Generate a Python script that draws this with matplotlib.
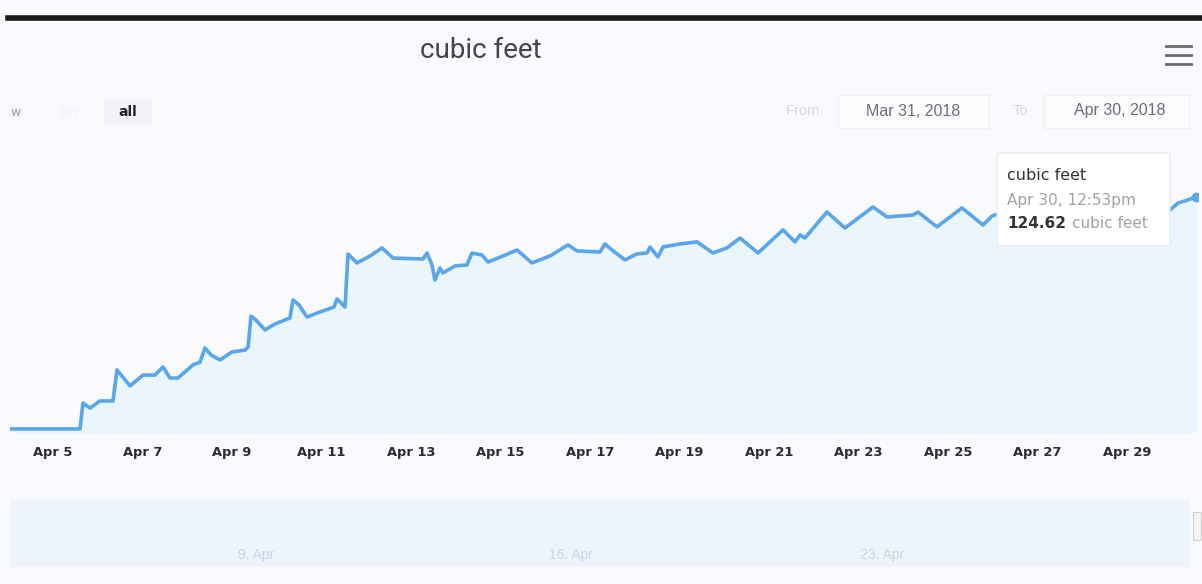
import matplotlib
matplotlib.use("Agg")
import matplotlib.pyplot as plt
import matplotlib.dates as mdates
import matplotlib.transforms as mtransforms
from matplotlib.patches import FancyBboxPatch, Rectangle
import pandas as pd

# ---- data ----
times = [
    "2018-04-04 01:00", "2018-04-05 14:28", "2018-04-05 16:05", "2018-04-05 19:50",
    "2018-04-06 01:12", "2018-04-06 08:11", "2018-04-06 10:19", "2018-04-06 17:18",
    "2018-04-07 00:16", "2018-04-07 06:42", "2018-04-07 11:00", "2018-04-07 14:45",
    "2018-04-07 19:02", "2018-04-08 03:05", "2018-04-08 06:50", "2018-04-08 09:31",
    "2018-04-08 12:45", "2018-04-08 17:34", "2018-04-09 00:00", "2018-04-09 06:59",
    "2018-04-09 08:36", "2018-04-09 10:12", "2018-04-09 12:52", "2018-04-09 17:41",
    "2018-04-09 23:04", "2018-04-10 07:06", "2018-04-10 08:43", "2018-04-10 11:56",
    "2018-04-10 16:13", "2018-04-10 23:11", "2018-04-11 06:42", "2018-04-11 08:18",
    "2018-04-11 10:28", "2018-04-11 12:36", "2018-04-11 14:13", "2018-04-11 19:02",
    "2018-04-12 02:01", "2018-04-12 08:27", "2018-04-12 14:21", "2018-04-13 06:26",
    "2018-04-13 08:35", "2018-04-13 11:15", "2018-04-13 12:52", "2018-04-13 15:33",
    "2018-04-13 17:09", "2018-04-13 23:36", "2018-04-14 06:02", "2018-04-14 08:42",
    "2018-04-14 14:05", "2018-04-14 17:18", "2018-04-15 01:21", "2018-04-15 08:51",
    "2018-04-15 16:54", "2018-04-16 02:33", "2018-04-16 12:11", "2018-04-16 17:01",
    "2018-04-17 05:21", "2018-04-17 08:02", "2018-04-17 11:48", "2018-04-17 18:46",
    "2018-04-18 01:12", "2018-04-18 06:34", "2018-04-18 08:11", "2018-04-18 12:28",
    "2018-04-18 15:09", "2018-04-19 00:16", "2018-04-19 09:23", "2018-04-19 17:58",
    "2018-04-20 01:28", "2018-04-20 08:27", "2018-04-20 18:06", "2018-04-21 07:31",
    "2018-04-21 13:57", "2018-04-21 16:38", "2018-04-21 19:18", "2018-04-22 07:06",
    "2018-04-22 16:45", "2018-04-23 07:46", "2018-04-23 15:17", "2018-04-24 05:14",
    "2018-04-24 07:55", "2018-04-24 18:06", "2018-04-25 07:31", "2018-04-25 18:46",
    "2018-04-25 23:36", "2018-04-26 11:56", "2018-04-27 04:02", "2018-04-27 20:07",
    "2018-04-28 12:12", "2018-04-29 06:59", "2018-04-29 23:04", "2018-04-30 03:22",
    "2018-04-30 07:06", "2018-04-30 12:53",
]
cubic_feet = [
    1.1, 1.1, 14.9, 12.2,
    16.0, 16.0, 32.5, 24.0,
    29.8, 29.8, 34.1, 28.2,
    28.2, 35.2, 36.7, 44.2,
    40.5, 37.8, 42.1, 43.1,
    44.7, 61.2, 59.1, 53.8,
    57.0, 60.2, 69.8, 67.1,
    60.7, 63.4, 66.0, 70.3,
    68.2, 66.0, 94.3, 89.5,
    93.2, 97.5, 92.1, 91.6,
    94.8, 88.4, 80.4, 86.8,
    84.2, 87.9, 88.4, 94.8,
    93.7, 90.0, 93.2, 96.4,
    89.5, 93.2, 99.1, 95.9,
    95.3, 99.6, 96.4, 91.1,
    94.3, 94.8, 98.0, 92.7,
    98.0, 99.6, 100.7, 94.8,
    97.5, 102.8, 94.8, 107.1,
    100.7, 104.4, 102.8, 116.6,
    108.1, 119.3, 114.0, 115.0,
    116.6, 108.7, 118.8, 109.7,
    114.5, 118.8, 113.4, 119.8,
    115.6, 121.0, 117.7, 121.4,
    122.5, 124.62,
]
tick_dates = ["2018-04-05", "2018-04-07", "2018-04-09", "2018-04-11", "2018-04-13",
              "2018-04-15", "2018-04-17", "2018-04-19", "2018-04-21", "2018-04-23",
              "2018-04-25", "2018-04-27", "2018-04-29"]
nav_labels = ["9. Apr", "16. Apr", "23. Apr"]
nav_dates = ["2018-04-09", "2018-04-16", "2018-04-23"]

t = pd.to_datetime(times)
td = pd.to_datetime(tick_dates)

W, H = 1202, 584
BG = "#f8fafd"
LINE = "#5aa6ea"
FILL = "#eaf5fc"

fig = plt.figure(figsize=(W / 100, H / 100), dpi=100, facecolor=BG)

def fx(px):
    return px / W

def fy(py):
    return 1 - py / H

# top dark scan border
fig.add_artist(plt.Line2D([fx(8), fx(1202)], [fy(18), fy(18)], color="#1c1a1a", lw=4.0))

# main axes
ax = fig.add_axes([fx(10), fy(432), fx(1198) - fx(10), fy(145) - fy(432)])
ax.set_facecolor(BG)
ax.fill_between(t, cubic_feet, -10, color=FILL, zorder=1)
ax.plot(t, cubic_feet, color=LINE, lw=2.6, zorder=3, solid_joinstyle="round")
ax.plot(t[-1:], cubic_feet[-1:], "o", color=LINE, ms=6, zorder=4)

x0 = pd.Timestamp("2018-04-05") - pd.Timedelta(days=0.961)
x1 = pd.Timestamp("2018-04-05") + pd.Timedelta(days=25.587)
ax.set_xlim(x0, x1)
ax.set_ylim(-0.53, 152.3)
for s in ax.spines.values():
    s.set_visible(False)
ax.set_yticks([])
ax.set_xticks(td)
ax.xaxis.set_major_formatter(mdates.DateFormatter("%b %-d"))
ax.tick_params(axis="x", length=0, pad=10, labelsize=9.4, labelcolor="#2b2b33")
for lb in ax.get_xticklabels():
    lb.set_fontweight("bold")
    lb.set_family("DejaVu Sans")

# tooltip
tip = FancyBboxPatch((fx(997), fy(246)), fx(1170) - fx(997), fy(153) - fy(246),
                     boxstyle="round,pad=0,rounding_size=0.003", transform=fig.transFigure,
                     facecolor="white", edgecolor="#e8ecf0", lw=1.0, zorder=10)
fig.add_artist(tip)
fig.text(fx(1007), fy(176), "cubic feet", fontsize=11.5, color="#333333", va="center",
         family="DejaVu Sans", zorder=11)
fig.text(fx(1007), fy(200), "Apr 30, 12:53pm", fontsize=11, color="#a0a0a8", va="center",
         family="DejaVu Sans", zorder=11)
fig.text(fx(1007), fy(224), "124.62", fontsize=11, color="#333333", va="center",
         fontweight="bold", family="DejaVu Sans", zorder=11)
fig.text(fx(1072), fy(224), "cubic feet", fontsize=11, color="#a0a0a8", va="center",
         family="DejaVu Sans", zorder=11)

# title
fig.text(fx(481), fy(50), "cubic feet", fontsize=20, color="#44444c", ha="center",
         va="center", family="Roboto")

# menu icon
for yy in (46, 55, 64):
    fig.add_artist(plt.Line2D([fx(1166), fx(1191)], [fy(yy), fy(yy)], color="#6a6a6a", lw=2.0))

# range selector
fig.text(fx(10), fy(112), "w", fontsize=9, color="#9a9aa0", va="center", family="DejaVu Sans")
fig.text(fx(58), fy(112), "1m", fontsize=9, color="#eef0f3", va="center", family="DejaVu Sans")
fig.add_artist(Rectangle((fx(104), fy(124)), fx(48), fy(100) - fy(124),
                         transform=fig.transFigure, facecolor="#f1f3f6", edgecolor="none"))
fig.text(fx(128), fy(112), "all", fontsize=10, color="#222222", ha="center", va="center",
         fontweight="bold", family="DejaVu Sans")

# date inputs
fig.text(fx(803), fy(111), "From", fontsize=10.5, color="#d6d8dc", ha="center", va="center",
         family="Liberation Sans")
fig.add_artist(Rectangle((fx(838), fy(128)), fx(150), fy(95) - fy(128),
                         transform=fig.transFigure, facecolor="#fbfcfd", edgecolor="#eceef1", lw=0.8))
fig.text(fx(913), fy(111), "Mar 31, 2018", fontsize=11.5, color="#6d6d75", ha="center",
         va="center", family="Liberation Sans")
fig.text(fx(1020), fy(111), "To", fontsize=10.5, color="#d6d8dc", ha="center", va="center",
         family="Liberation Sans")
fig.add_artist(Rectangle((fx(1044), fy(128)), fx(145), fy(95) - fy(128),
                         transform=fig.transFigure, facecolor="#fbfcfd", edgecolor="#eceef1", lw=0.8))
fig.text(fx(1120), fy(111), "Apr 30, 2018", fontsize=11.5, color="#6d6d75", ha="center",
         va="center", family="Liberation Sans")

# navigator
nav = fig.add_axes([fx(10), fy(567), fx(1190) - fx(10), fy(500) - fy(567)])
nav.set_facecolor("#edf4fb")
nav.set_xlim(x0, x1)
nav.set_ylim(0, 1)
for s in nav.spines.values():
    s.set_visible(False)
nav.set_yticks([])
nav.set_xticks(pd.to_datetime(nav_dates))
nav.set_xticklabels(nav_labels, ha="left")
nav.tick_params(axis="x", direction="in", length=0, pad=-14, labelsize=10,
                labelcolor="#c9d4e4")
shift = mtransforms.ScaledTranslation(7 / 100, 0, fig.dpi_scale_trans)
for lb in nav.get_xticklabels():
    lb.set_family("Liberation Sans")
    lb.set_transform(lb.get_transform() + shift)
fig.add_artist(Rectangle((fx(1193), fy(540)), fx(8), fy(512) - fy(540),
                         transform=fig.transFigure, facecolor="#f4f4f4", edgecolor="#cfcfcf", lw=0.8))

fig.savefig("out.png", dpi=100, facecolor=BG)
